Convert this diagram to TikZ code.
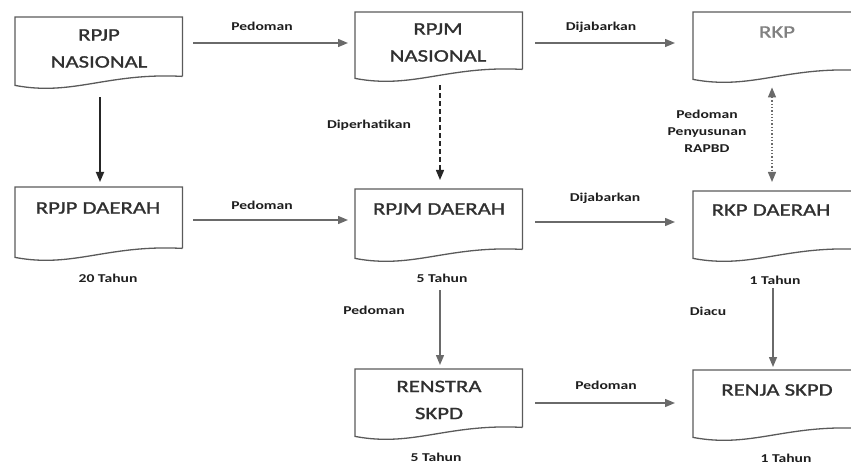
\documentclass[tikz,border=0pt]{standalone}
\usepackage{fontspec}
\setmainfont{Carlito}[FakeStretch=1.3]
\usetikzlibrary{arrows.meta,calc}
\definecolor{ttl}{HTML}{303030}
\definecolor{lbl}{HTML}{1E1E1E}
\definecolor{ln}{HTML}{6A6A6A}
\definecolor{bx}{HTML}{5A5A5A}
\tikzset{
  box/.style={rectangle,draw=none,minimum width=167pt,inner sep=0pt,anchor=north west},
  docline/.style={draw=bx,line width=1.3pt},
  ttlnode/.style={text=ttl,align=center,inner sep=0pt,font=\fontsize{17.5}{27}\selectfont\addfontfeature{FakeBold=1.3}},
  lblnode/.style={text=lbl,align=center,inner sep=0pt,font=\fontsize{12}{17}\selectfont\bfseries},
  arr/.style={draw=ln,line width=1.4pt,-{Triangle[length=10pt,width=8pt]}},
}
\newcommand\docpath[1]{%
  \draw[docline] (#1.south east) -- (#1.north east) -- (#1.north west) -- ([yshift=-9pt]#1.south west)
    .. controls ([xshift=58pt,yshift=-20pt]#1.south west) and ([xshift=92pt,yshift=4pt]#1.south west) .. (#1.south east);}
\begin{document}
\begin{tikzpicture}[x=1pt,y=-1pt]
\useasboundingbox (0,0) rectangle (851,465);
% boxes
\node[box,minimum height=59pt] (rpjpn) at (15,17) {};
\node[box,minimum height=57pt] (rpjmn) at (355,12) {};
\node[box,minimum height=58pt] (rkp) at (693,12) {};
\node[box,minimum height=61pt] (rpjpd) at (15,187) {};
\node[box,minimum height=60pt] (rpjmd) at (355,189) {};
\node[box,minimum height=58pt] (rkpd) at (693,191) {};
\node[box,minimum height=58pt] (renstra) at (355,369) {};
\node[box,minimum height=58pt] (renja) at (693,370) {};
\docpath{rpjpn}\docpath{rpjmn}\docpath{rkp}
\docpath{rpjpd}\docpath{rpjmd}\docpath{rkpd}
\docpath{renstra}\docpath{renja}
% titles
\node[ttlnode] (t1) at (99,48.5) {RPJP\\NASIONAL};
\node[ttlnode] (t2) at (438,42.5) {RPJM\\NASIONAL};
\node[ttlnode,text=black!50] (t3) at (777,32) {RKP};
\node[ttlnode] (t4) at (98,208) {RPJP DAERAH};
\node[ttlnode] (t5) at (439,209) {RPJM DAERAH};
\node[ttlnode] (t6) at (771,210) {RKP DAERAH};
\node[ttlnode] (t7) at (439,400) {RENSTRA\\SKPD};
\node[ttlnode] (t8) at (777,390) {RENJA SKPD};
% horizontal arrows
\draw[arr,shorten <=11pt,shorten >=7pt] (rpjpn.east |- 0,43) -- (rpjmn.west |- 0,43);
\draw[arr,shorten <=13pt,shorten >=18pt] (rpjmn.east |- 0,43) -- (rkp.west |- 0,43);
\draw[arr,shorten <=11pt,shorten >=7pt] (rpjpd.east |- 0,220) -- (rpjmd.west |- 0,220);
\draw[arr,shorten <=13pt,shorten >=18pt] (rpjmd.east |- 0,222) -- (rkpd.west |- 0,222);
\draw[arr,shorten <=13pt,shorten >=18pt] (renstra.east |- 0,403) -- (renja.west |- 0,403);
% vertical arrows
\draw[arr,draw=black!85,line width=1.7pt,shorten <=21pt,shorten >=5pt] (rpjpn.south -| 100,0) -- (rpjpd.north -| 100,0);
\draw[arr,draw=black!85,dash pattern=on 5pt off 3pt,shorten <=16pt,shorten >=9pt] (rpjmn.south -| 440,0) -- (rpjmd.north -| 440,0);
\draw[draw=ln,line width=1.3pt,dotted,{Triangle[length=10pt,width=8pt]}-{Triangle[length=10pt,width=8pt]},shorten <=17pt,shorten >=9pt] (rkp.south -| 772,0) -- (rkpd.north -| 772,0);
\draw[arr,shorten <=41pt,shorten >=4pt] (rpjmd.south -| 440,0) -- (renstra.north -| 440,0);
\draw[arr,shorten <=39pt,shorten >=3pt] (rkpd.south -| 773,0) -- (renja.north -| 773,0);
% labels
\node[lblnode] (l1) at (262,26) {Pedoman};
\node[lblnode] (l2) at (601,27) {Dijabarkan};
\node[lblnode] (l3) at (369,125) {Diperhatikan};
\node[lblnode] (l4) at (707,131) {Pedoman\\Penyusunan\\RAPBD};
\node[lblnode] (l5) at (262,205) {Pedoman};
\node[lblnode] (l6) at (605,198) {Dijabarkan};
\node[lblnode] (l7) at (108,278) {20 Tahun};
\node[lblnode] (l8) at (442,278) {5 Tahun};
\node[lblnode] (l9) at (775,280) {1 Tahun};
\node[lblnode] (l10) at (374,310) {Pedoman};
\node[lblnode] (l11) at (708,311) {Diacu};
\node[lblnode] (l12) at (606,385) {Pedoman};
\node[lblnode] (l13) at (436,457) {5 Tahun};
\node[lblnode] (l14) at (786,458) {1 Tahun};
\end{tikzpicture}
\end{document}
